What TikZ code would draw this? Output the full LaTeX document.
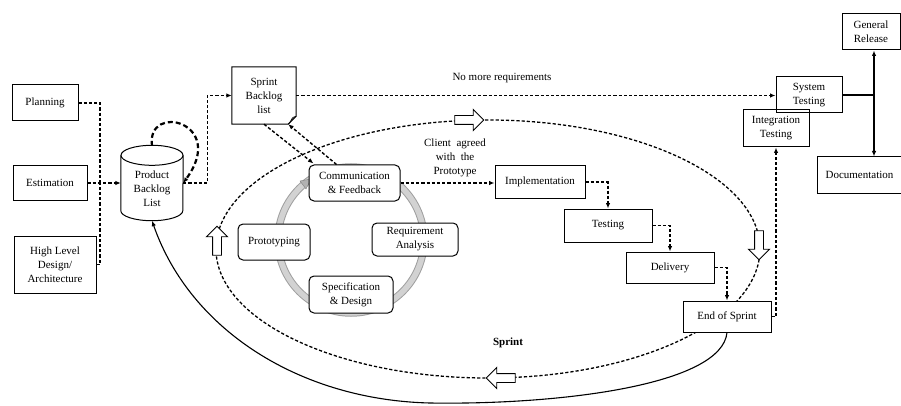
\documentclass[tikz,border=0pt]{standalone}
\usepackage{fontspec}
\setmainfont{Liberation Serif}
\usetikzlibrary{arrows.meta,shapes.arrows,calc}
\begin{document}
\begin{tikzpicture}[x=1pt,y=-1pt,
  every node/.style={font=\fontsize{11}{14}\selectfont, inner sep=1pt, align=center},
  plainbox/.style={draw, line width=1pt, fill=white},
  rbox/.style={plainbox, rounded corners=5pt},
  dline/.style={line width=1.4pt, dash pattern=on 3.2pt off 2pt},
  arr/.style={-{Latex[length=5.5pt,width=4.5pt]}},
  dflow/.style={dline, arr},
  sflow/.style={line width=1.1pt, arr},
  blockarrow/.style={single arrow, draw, fill=white, line width=0.9pt,
    minimum height=29pt, inner sep=4pt, single arrow head extend=6pt,
    single arrow tip angle=90},
]
\useasboundingbox (0,0) rectangle (901,406);

% ---- sprint cycle (dashed ellipse) and the prototyping ring ----
\draw[dline, line width=1.3pt] (488,249) ellipse[x radius=272, y radius=129];
\draw[line width=7.5pt, gray!75] (351,240) circle[radius=73];
\draw[line width=5.5pt, gray!35] (351,240) circle[radius=73];
\fill[gray!60, draw=gray] (311,179) -- (306,189) -- (300,181) -- cycle;

% ---- left inputs ----
\node[plainbox, minimum width=66pt, minimum height=36pt] (plan) at (45,103) {Planning};
\node[plainbox, minimum width=74pt, minimum height=34pt] (est) at (50,183) {Estimation};
\node[plainbox, minimum width=82pt, minimum height=57pt] (hld) at (55,264.5) {High Level\\Design/\\Architecture};
\coordinate (jn) at (100,183);

% ---- product backlog (cylinder) ----
\node[minimum width=62pt, minimum height=75pt] (pbl) at (152,183) {};
\node (pbltext) at (152,189) {Product\\Backlog\\List};
\draw[line width=1pt] ($(pbl.north west)+(0,10)$) -- ($(pbl.south west)+(0,-10)$)
  arc[start angle=180, end angle=0, x radius=31, y radius=10]
  -- ($(pbl.north east)+(0,10)$);
\draw[line width=1pt] ($(pbl.north)+(0,10)$) ellipse[x radius=31, y radius=10];

% ---- sprint backlog (note with folded corner) ----
\node[minimum width=64pt, minimum height=57pt] (sb) at (264,95.5) {Sprint\\Backlog\\list};
\draw[line width=1pt] (sb.north west) -- (sb.north east) -- ([yshift=8pt]sb.south east)
  -- ([xshift=-8pt]sb.south east) -- (sb.south west) -- cycle;
\draw[line width=0.7pt] ([yshift=8pt]sb.south east) .. controls ([xshift=-6pt,yshift=7pt]sb.south east)
  and ([xshift=-4pt,yshift=3pt]sb.south east) .. ([xshift=-8pt]sb.south east);

% ---- release side ----
\node[draw, line width=1pt, minimum width=66pt, minimum height=36pt] (st) at (809,95) {System\\Testing};
\node[draw, line width=1pt, minimum width=66pt, minimum height=37pt] (it) at (776,128.5) {Integration\\Testing};
\node[plainbox, minimum width=58pt, minimum height=36pt] (gr) at (871,32) {General\\Release};
\node[plainbox, minimum width=85pt, minimum height=36pt] (doc) at (859.5,175) {Documentation};
\coordinate (j2) at (874,95);

% ---- prototyping cycle ----
\node[rbox, minimum width=91pt, minimum height=36pt] (comm) at (354.5,183) {Communication\\\& Feedback};
\node[rbox, minimum width=72pt, minimum height=36pt] (proto) at (274,242) {Prototyping};
\node[rbox, minimum width=86pt, minimum height=33pt] (req) at (415,239.5) {Requirement\\Analysis};
\node[rbox, minimum width=84pt, minimum height=37pt] (spec) at (351,294.5) {Specification\\\& Design};

% ---- development chain ----
\node[plainbox, minimum width=90pt, minimum height=32pt] (impl) at (540,182) {Implementation};
\node[plainbox, minimum width=88pt, minimum height=33pt] (test) at (608,225.5) {Testing};
\node[plainbox, minimum width=88pt, minimum height=31pt] (deliv) at (670,267.5) {Delivery};
\node[plainbox, minimum width=88pt, minimum height=31pt] (eos) at (727,316.5) {End of Sprint};

% ---- direction markers on the sprint cycle ----
\node[blockarrow, shape border rotate=0] (ba1) at (467,120) {};
\node[blockarrow, shape border rotate=270] (ba2) at (759,243) {};
\node[blockarrow, shape border rotate=180] (ba3) at (503,378) {};
\node[blockarrow, shape border rotate=90] (ba4) at (217,243) {};

% ---- labels ----
\node (lblreq) at (502,78) {No more requirements};
\node (lblclient) at (455,158) {Client\ \ agreed\\with\ \ the\\Prototype};
\node[font=\fontsize{11}{14}\selectfont\bfseries] (lblsprint) at (508,343) {Sprint};

% ---- connectors ----
\draw[dline] (plan.east) -| (jn);
\draw[dline] (hld.east) -| (jn);
\draw[dflow] (est.east) -- (pbl.west);
\draw[dflow, line width=2.2pt, dash pattern=on 5pt off 3pt] ($(pbl.north)+(0,0.5)$)
  .. controls (146,102) and (228,122) .. (pbl.east);
\draw[dflow] (pbl.east) -- ++(24,0) |- (sb.west);
\draw[dflow] (sb.east) -- (sb.east -| st.west);
\draw[dflow] (sb.south) -- ([xshift=5pt,yshift=1pt]comm.north west);
\draw[dflow] ([xshift=28pt]comm.north west) -- ([xshift=-8pt]sb.south east);
\draw[dflow] (comm.east) -- (comm.east -| impl.west);
\draw[dflow] (impl.east) -| (test.north);
\draw[dflow] (test.east) -| (deliv.north);
\draw[dflow] (deliv.east) -| (eos.north);
\draw[dflow] (eos.east) -| (it.south);
\draw[line width=1.2pt] (st.east) -- (j2);
\draw[sflow, line width=1.2pt] (j2) -- (j2 |- gr.south);
\draw[sflow, line width=1.2pt] (j2) -- (j2 |- doc.north);
\draw[sflow] (eos.south) .. controls (722,385) and (560,405) .. (430,403)
  .. controls (300,400) and (190,330) .. (pbl.south);
\end{tikzpicture}
\end{document}
